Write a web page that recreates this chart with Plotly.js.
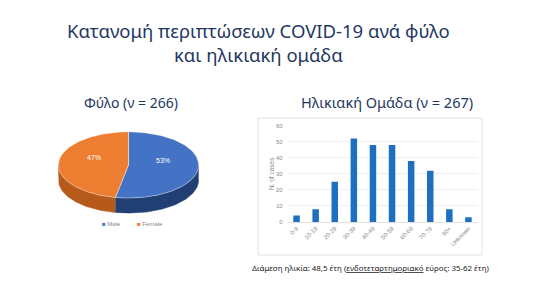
<!DOCTYPE html>
<html>
<head>
<meta charset="utf-8">
<script src="https://cdn.plot.ly/plotly-3.0.1.min.js"></script>
<style>html,body{margin:0;padding:0;background:#fff;}#chart{width:542px;height:300px;}</style>
</head>
<body>
<div id="chart"></div>
<script>
// ---- data ----
var sexLabels = ["Male", "Female"];
var sexShares = [53, 47];
var sexColors = ["#4472C4", "#ED7D31"];
var sexSideColors = ["#223F73", "#B65A1C"];

var ageGroups = ["0-9", "10-19", "20-29", "30-39", "40-49", "50-59", "60-69", "70-79", "80+", "Unknown"];
var ageCases = [4, 8, 25, 52, 48, 48, 38, 32, 8, 3];

var W = 542, H = 300;
function px(x){ return x / W; }
function py(y){ return 1 - y / H; }

// ---- faux 3D pie built from the shares ----
var RY = 0.468, DEPTH = 0.213;
function pt(theta, drop){ // theta in degrees clockwise from top
  var r = theta * Math.PI / 180;
  return [Math.sin(r), RY * Math.cos(r) - (drop || 0)];
}
var total = sexShares.reduce(function(a,b){return a+b;}, 0);
var traces = [];
var tops = [];
var labelsAnn = [];
var start = 0;
for (var i = 0; i < sexShares.length; i++) {
  var span = sexShares[i] / total * 360;
  var a0 = start, a1 = start + span;
  var s0 = Math.max(a0, 90), s1 = Math.min(a1, 270);
  if (s1 > s0) {
    var wx = [], wy = [], t, p;
    for (t = s0; t <= s1 + 1e-9; t += (s1 - s0) / 60) { p = pt(t, 0); wx.push(p[0]); wy.push(p[1]); }
    for (t = s1; t >= s0 - 1e-9; t -= (s1 - s0) / 60) { p = pt(t, DEPTH); wx.push(p[0]); wy.push(p[1]); }
    traces.push({type:"scatter", mode:"lines", x:wx, y:wy, fill:"toself", fillcolor:sexSideColors[i],
      line:{color:sexSideColors[i], width:0.5}, xaxis:"x2", yaxis:"y2", hoverinfo:"skip", showlegend:false});
  }
  var tx = [0], ty = [0];
  for (var k = 0; k <= 120; k++) { var q = pt(a0 + span * k / 120, 0); tx.push(q[0]); ty.push(q[1]); }
  tx.push(0); ty.push(0);
  tops.push({type:"scatter", mode:"lines", x:tx, y:ty, fill:"toself", fillcolor:sexColors[i],
    line:{color:"rgba(255,255,255,0.7)", width:0.6}, xaxis:"x2", yaxis:"y2", name:sexLabels[i],
    hoverinfo:"name", showlegend:false});
  var mid = pt((a0 + a1) / 2, 0);
  labelsAnn.push({xref:"x2", yref:"y2", x:mid[0]*0.5, y:mid[1]*0.5 + 0.08, text:sexShares[i] + "%",
    xanchor:"center", yanchor:"middle",
    showarrow:false, font:{family:"Liberation Sans", size:7, color:"#ffffff"}});
  start = a1;
}
traces = traces.concat(tops);

// ---- bar chart ----
traces.push({type:"bar", x:ageGroups, y:ageCases, marker:{color:"#1F6FC0"}, xaxis:"x", yaxis:"y",
  showlegend:false, hovertemplate:"%{x}: %{y}<extra></extra>"});

var gray = "#8a8a8a";
function ann(x, y, text, font, extra){
  var a = {xref:"paper", yref:"paper", x:px(x), y:py(y), text:text, showarrow:false,
    xanchor:"center", yanchor:"middle", align:"center", font:font};
  for (var key in (extra||{})) a[key] = extra[key];
  return a;
}
var annotations = [
  ann(258, 43, "Κατανομή περιπτώσεων COVID-19 ανά φύλο<br>και ηλικιακή ομάδα",
      {family:"Noto Sans", size:18.5, color:"#1F3864"}),
  ann(131, 102, "Φύλο (ν = 266)", {family:"Noto Sans", size:14, color:"#1F3864"}),
  ann(387, 102, "Ηλικιακή Ομάδα (ν = 267)", {family:"Noto Sans", size:14.5, color:"#1F3864"}),
  ann(370, 268, "Διάμεση ηλικία: 48,5 έτη (<u>ενδοτεταρτημοριακό</u> εύρος: 35-62 έτη)",
      {family:"Noto Sans", size:7.9, color:"#222222"}),
  ann(100, 224, "<span style='color:" + sexColors[0] + "'>■</span> " + sexLabels[0],
      {family:"Liberation Sans", size:6, color:gray}, {xanchor:"left"}),
  ann(135, 224, "<span style='color:" + sexColors[1] + "'>■</span> " + sexLabels[1],
      {family:"Liberation Sans", size:6, color:gray}, {xanchor:"left"})
].concat(labelsAnn);

var layout = {
  width: W, height: H,
  margin:{l:0, r:0, t:0, b:0},
  paper_bgcolor:"#ffffff", plot_bgcolor:"rgba(0,0,0,0)",
  showlegend:false,
  bargap:0.66,
  xaxis:{domain:[px(287), px(478)], anchor:"y", type:"category", tickangle:-45,
    tickfont:{family:"Liberation Sans", size:6, color:gray}, showgrid:false, zeroline:false,
    showline:true, linecolor:"#d9d9d9", linewidth:0.8, ticks:"", fixedrange:true},
  yaxis:{domain:[py(222), py(125.7)], anchor:"x", range:[0,60], dtick:10,
    tickfont:{family:"Liberation Sans", size:6, color:gray}, gridcolor:"#e3e3e3", gridwidth:0.6,
    zeroline:false, showline:false, ticks:"", ticksuffix:"  ",
    title:{text:"N. of cases", font:{family:"Liberation Sans", size:6.5, color:gray}, standoff:0}, fixedrange:true},
  xaxis2:{domain:[px(58), px(199)], anchor:"y2", range:[-1.005, 1.005], visible:false, fixedrange:true},
  yaxis2:{domain:[py(213.5), py(131.5)], anchor:"x2", range:[-RY-DEPTH-0.005, RY+0.005], visible:false, fixedrange:true},
  shapes:[
    {type:"rect", xref:"paper", yref:"paper", x0:px(258), x1:px(482), y0:py(255), y1:py(118),
     line:{color:"#d9d9d9", width:0.8}, fillcolor:"rgba(0,0,0,0)", layer:"below"}
  ],
  annotations: annotations
};

Plotly.newPlot("chart", traces, layout, {displayModeBar:false, staticPlot:true});
</script>
</body>
</html>
